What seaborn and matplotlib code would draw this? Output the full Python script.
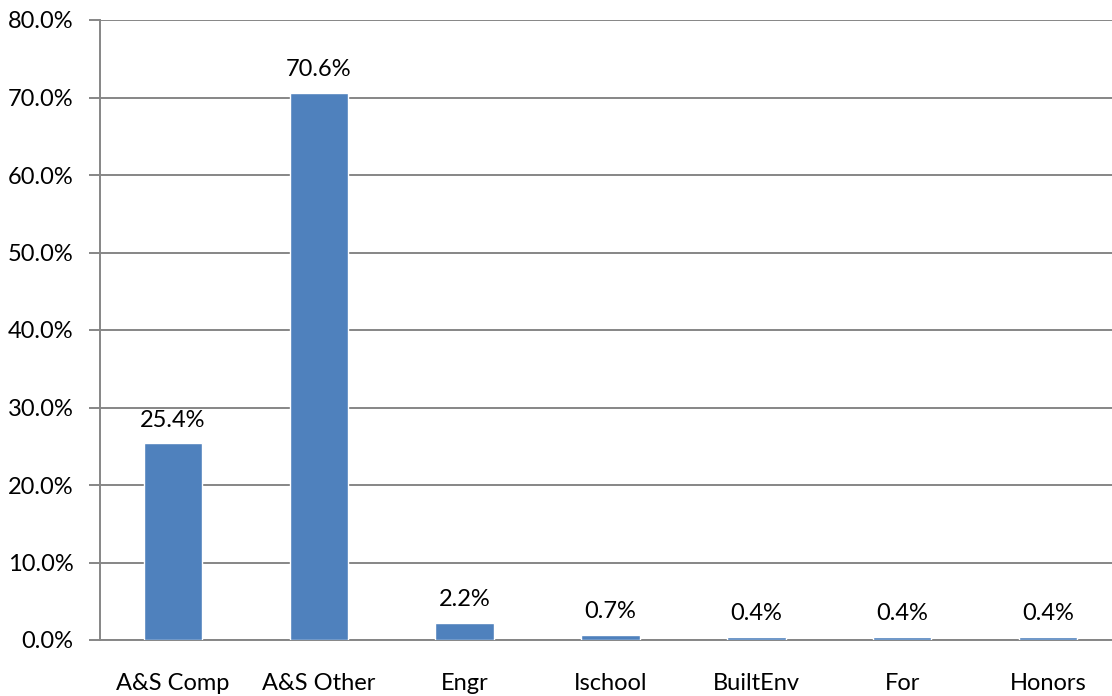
import matplotlib
matplotlib.use("Agg")
import matplotlib.pyplot as plt
import numpy as np
import pandas as pd
import seaborn as sns

categories = ["A&S Comp", "A&S Other", "Engr", "Ischool", "BuiltEnv", "For", "Honors"]
shares = [25.4, 70.6, 2.2, 0.7, 0.4, 0.4, 0.4]
y_ticks = [0, 10, 20, 30, 40, 50, 60, 70, 80]

sns.set_theme(style="white")
plt.rcParams["font.family"] = ["Lato", "DejaVu Sans"]

df = pd.DataFrame({"college": categories, "share": shares})

fig = plt.figure(figsize=(11.12, 6.96), dpi=100)
W, H = 1112, 696
left, right, top, bottom = 100, 1121, 20, 640
ax = fig.add_axes([left / W, 1 - bottom / H, (right - left) / W, (bottom - top) / H])

grid_col = "#868686"
fs = 17
sns.barplot(data=df, x="college", y="share", order=categories, color="#4F81BD",
            saturation=1, width=0.4, ax=ax, zorder=3)

ax.set_xlim(-0.5, len(categories) - 0.5)
ax.set_ylim(0, 80)
ax.set_yticks(y_ticks)
ax.set_yticklabels([f"{v:.1f}%" for v in y_ticks])
ax.yaxis.grid(True, color=grid_col, linewidth=1.4, zorder=0)
ax.set_axisbelow(True)

# category labels centred, tick marks at category boundaries
ax.set_xticks(range(len(categories)))
ax.set_xticklabels(categories)
ax.set_xticks(np.arange(-0.5, len(categories), 1.0), minor=True)
ax.tick_params(axis="x", which="major", length=0, pad=24, labelsize=fs, colors="black")
ax.tick_params(axis="x", which="minor", length=8, width=1.4, color=grid_col, direction="out")
ax.tick_params(axis="y", length=8, width=1.4, color=grid_col, direction="out",
               labelsize=fs, labelcolor="black", pad=11, left=True)

for side in ["top", "right"]:
    ax.spines[side].set_visible(False)
for side in ["left", "bottom"]:
    ax.spines[side].set_color(grid_col)
    ax.spines[side].set_linewidth(1.4)

ax.set_xlabel("")
ax.set_ylabel("")

for i, v in enumerate(shares):
    ax.annotate(f"{v:.1f}%", (i, v), xytext=(0, 9), textcoords="offset points",
                ha="center", va="bottom", fontsize=fs, color="black")

fig.savefig("out.png", dpi=100)
